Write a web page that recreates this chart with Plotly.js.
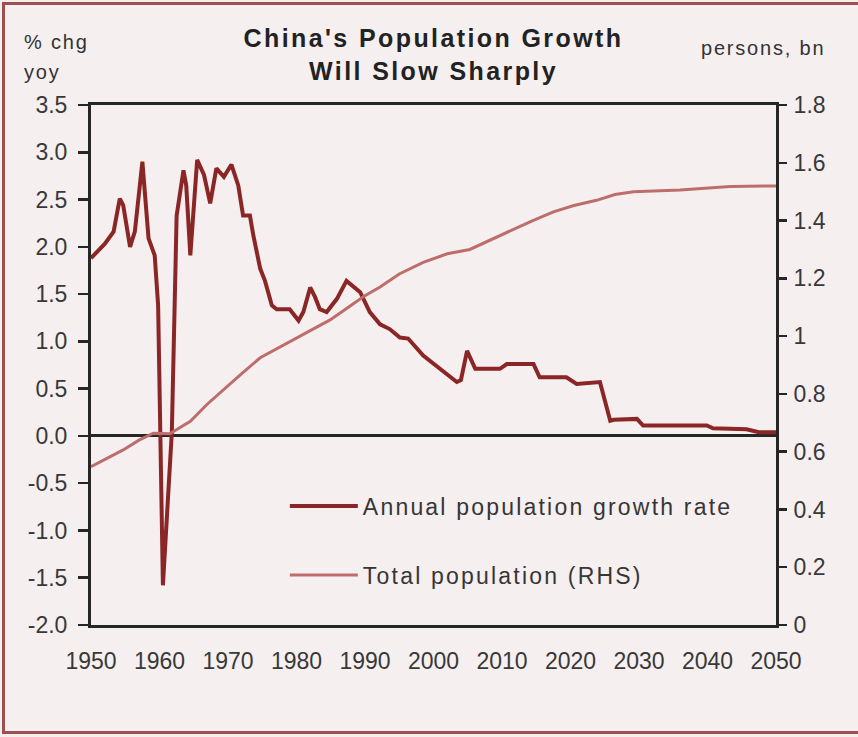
<!DOCTYPE html>
<html>
<head>
<meta charset="utf-8">
<script src="https://cdn.plot.ly/plotly-3.0.1.min.js"></script>
<style>
  html, body { margin: 0; padding: 0; background: #f6eff0; }
  #wrap { position: relative; width: 858px; height: 737px; overflow: hidden; }
  #chart { position: absolute; left: 0; top: 0; width: 858px; height: 737px; }
  #frame { position: absolute; left: 2px; top: 2px; width: 900px; height: 732px;
           border: 3px solid #a0504c; box-sizing: border-box; pointer-events: none; }
  .gtitle { letter-spacing: 2.4px; }
  .legendtext { letter-spacing: 2.2px; }
  .annotation-text { letter-spacing: 1.8px; }
</style>
</head>
<body>
<div id="wrap">
  <div id="chart"></div>
  <div id="frame"></div>
</div>
<script>
// Annual population growth rate, % chg yoy (left axis)
const growthYears = [1950, 1951, 1952, 1953.3, 1954.2, 1954.7, 1955.7, 1956.4, 1957.5, 1958.4,
  1959.3, 1959.8, 1960.5, 1961.8, 1962.5, 1963.5, 1963.9, 1964.5, 1965.5, 1966.5,
  1967.4, 1968.3, 1969.4, 1970.5, 1971.5, 1972.2, 1973.2, 1973.7, 1974.7, 1975.4,
  1976.4, 1977.1, 1979.0, 1980.3, 1981.0, 1982.0, 1982.7, 1983.4, 1984.4, 1985.9,
  1987.3, 1989.3, 1990.7, 1992.2, 1993.6, 1995.1, 1996.3, 1998.5, 2003.4, 2004.0,
  2004.9, 2006.1, 2009.7, 2010.7, 2014.6, 2015.5, 2019.4, 2020.9, 2024.3, 2025.8,
  2026.3, 2029.7, 2030.6, 2039.9, 2040.8, 2045.7, 2047.5, 2050];
const growthRate = [1.88, 1.96, 2.03, 2.16, 2.51, 2.44, 2.00, 2.16, 2.90, 2.09,
  1.91, 1.38, -1.58, 0.04, 2.33, 2.81, 2.65, 1.91, 2.92, 2.76,
  2.46, 2.83, 2.74, 2.87, 2.65, 2.33, 2.33, 2.12, 1.77, 1.64,
  1.38, 1.34, 1.34, 1.22, 1.31, 1.57, 1.47, 1.34, 1.31, 1.45,
  1.64, 1.52, 1.31, 1.18, 1.13, 1.04, 1.03, 0.85, 0.57, 0.59,
  0.90, 0.71, 0.71, 0.76, 0.76, 0.62, 0.62, 0.55, 0.57, 0.16,
  0.17, 0.18, 0.11, 0.11, 0.08, 0.07, 0.04, 0.04];

// Total population, persons bn (right axis)
const popYears = [1950, 1952, 1954.7, 1957, 1959.1, 1961.5, 1964.5, 1967, 1969.8, 1972,
  1974.7, 1977, 1980, 1984.9, 1987, 1989.8, 1992.2, 1995, 1998.5, 2002,
  2005.3, 2008, 2011.6, 2014.5, 2017.5, 2020.5, 2023.8, 2026.5, 2029.2, 2036,
  2043.3, 2050];
const popBn = [0.548, 0.572, 0.606, 0.640, 0.664, 0.662, 0.705, 0.765, 0.825, 0.870,
  0.925, 0.955, 0.995, 1.056, 1.090, 1.137, 1.170, 1.215, 1.255, 1.285,
  1.300, 1.330, 1.370, 1.400, 1.430, 1.452, 1.470, 1.490, 1.500, 1.506,
  1.518, 1.520];

// Tick labels
const xTickVals = [1950, 1960, 1970, 1980, 1990, 2000, 2010, 2020, 2030, 2040, 2050];
const xTickText = ['1950', '1960', '1970', '1980', '1990', '2000', '2010', '2020', '2030', '2040', '2050'];
const leftTickVals = [-2, -1.5, -1, -0.5, 0, 0.5, 1, 1.5, 2, 2.5, 3, 3.5];
const leftTickText = ['-2.0', '-1.5', '-1.0', '-0.5', '0.0', '0.5', '1.0', '1.5', '2.0', '2.5', '3.0', '3.5'];
const rightTickVals = [0, 0.2, 0.4, 0.6, 0.8, 1, 1.2, 1.4, 1.6, 1.8];
const rightTickText = ['0', '0.2', '0.4', '0.6', '0.8', '1', '1.2', '1.4', '1.6', '1.8'];

const seriesNames = ['Annual population growth rate', 'Total population (RHS)'];

const traces = [
  {
    x: popYears, y: popBn, yaxis: 'y2', type: 'scatter', mode: 'lines',
    name: seriesNames[1], legendrank: 2, legendgroup: 'b',
    line: { color: '#bd6e6c', width: 3 }
  },
  {
    x: growthYears, y: growthRate, type: 'scatter', mode: 'lines',
    name: seriesNames[0], legendrank: 1, legendgroup: 'a',
    line: { color: '#8b2626', width: 4 }
  }
];

const axisColor = '#262626';
const fam = 'Liberation Sans, Arial, sans-serif';
const tickFont = { family: fam, size: 23, color: '#383838' };

const layout = {
  width: 858, height: 737,
  margin: { l: 91, r: 82, t: 105, b: 112, pad: 0 },
  paper_bgcolor: '#f6eff0',
  plot_bgcolor: '#f6eff0',
  font: { family: fam, color: '#333' },
  title: {
    text: "China's Population Growth<br>Will Slow Sharply",
    font: { family: fam, size: 25, color: '#222', weight: 'bold' },
    x: 0.5, xanchor: 'center', xref: 'paper',
    y: 0.936, yanchor: 'middle'
  },
  showlegend: true,
  legend: {
    x: 0.283, y: 0.27, xanchor: 'left', yanchor: 'top',
    bgcolor: 'rgba(0,0,0,0)', borderwidth: 0,
    font: { family: fam, size: 23, color: '#363636' },
    traceorder: 'grouped', tracegroupgap: 36, itemwidth: 68
  },
  xaxis: {
    range: [1950, 2050], tickmode: 'array', tickvals: xTickVals, ticktext: xTickText,
    showline: true, linecolor: axisColor, linewidth: 3, mirror: true,
    ticks: '', showgrid: false, zeroline: false, tickfont: tickFont,
    ticklabelstandoff: 13
  },
  yaxis: {
    range: [-2, 3.5], tickmode: 'array', tickvals: leftTickVals, ticktext: leftTickText,
    showline: true, linecolor: axisColor, linewidth: 3,
    ticks: 'outside', ticklen: 10, tickwidth: 2.5, tickcolor: axisColor,
    showgrid: false, zeroline: true, zerolinecolor: axisColor, zerolinewidth: 3,
    tickfont: tickFont, ticklabelstandoff: 6
  },
  yaxis2: {
    range: [0, 1.8], overlaying: 'y', side: 'right', tickmode: 'array',
    tickvals: rightTickVals, ticktext: rightTickText,
    showline: true, linecolor: axisColor, linewidth: 3,
    ticks: 'outside', ticklen: 8, tickwidth: 2.5, tickcolor: axisColor,
    showgrid: false, zeroline: false, tickfont: tickFont, ticklabelstandoff: 2
  },
  annotations: [
    {
      text: '% chg', xref: 'paper', yref: 'paper',
      x: -0.101, y: 1.121, xanchor: 'left', yanchor: 'middle', align: 'left', showarrow: false,
      font: { family: fam, size: 20, color: '#333' }
    },
    {
      text: 'yoy', xref: 'paper', yref: 'paper',
      x: -0.101, y: 1.0635, xanchor: 'left', yanchor: 'middle', align: 'left', showarrow: false,
      font: { family: fam, size: 20, color: '#333' }
    },
    {
      text: 'persons, bn', xref: 'paper', yref: 'paper',
      x: 1.074, y: 1.11, xanchor: 'right', yanchor: 'middle', showarrow: false,
      font: { family: fam, size: 20, color: '#333' }
    }
  ]
};

Plotly.newPlot('chart', traces, layout, { displayModeBar: false, staticPlot: true });
</script>
</body>
</html>
